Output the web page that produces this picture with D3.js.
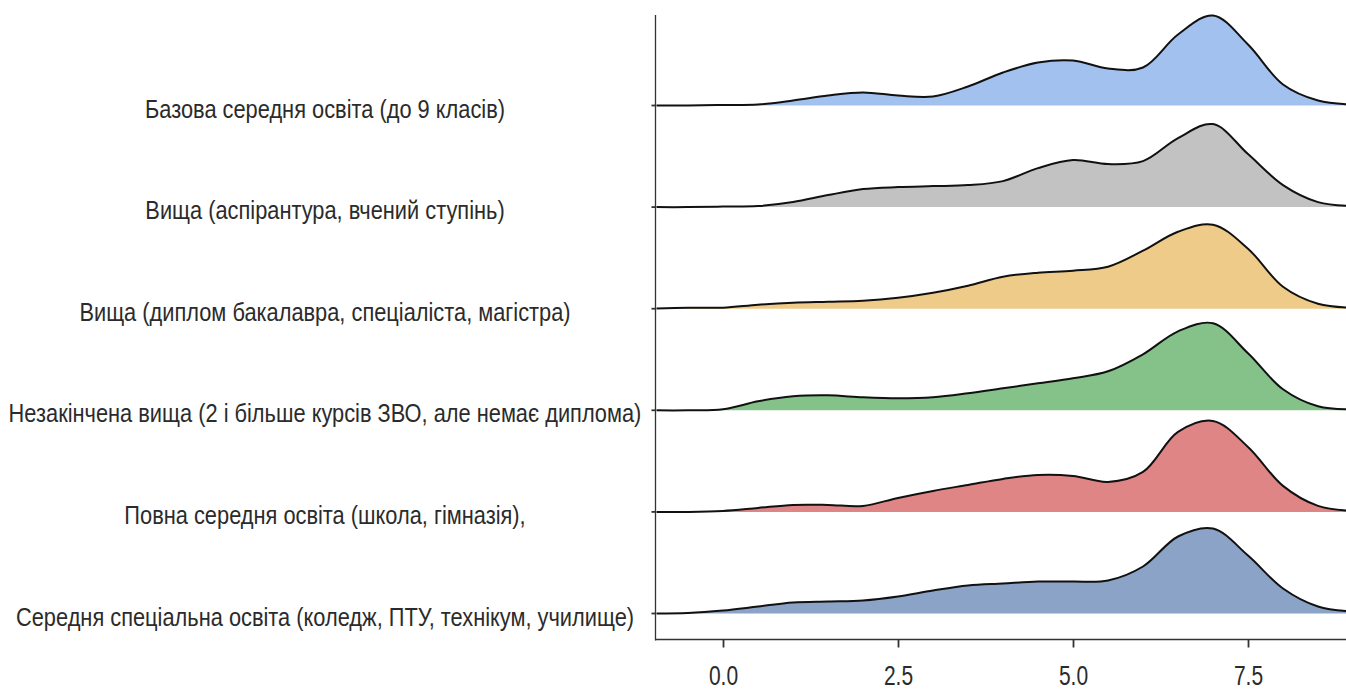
<!DOCTYPE html>
<html>
<head>
<meta charset="utf-8">
<script src="https://cdn.jsdelivr.net/npm/d3@7"></script>
<style>
  body { margin: 0; background: #fff; }
  text { font-family: 'Liberation Sans', Arial, sans-serif; fill: #2b2b2b; }
</style>
</head>
<body>
<div id="chart"></div>
<script>
// categories, top to bottom
const categories = [
    "Базова середня освіта (до 9 класів)",
    "Вища (аспірантура, вчений ступінь)",
    "Вища (диплом бакалавра, спеціаліста, магістра)",
    "Незакінчена вища (2 і більше курсів ЗВО, але немає диплома)",
    "Повна середня освіта (школа, гімназія),",
    "Середня спеціальна освіта (коледж, ПТУ, технікум, училище)"
];

const fillColors = ["#a3c1ee", "#c2c2c2", "#efcb8a", "#84c28a", "#e08585", "#8aa3c7"];

// x grid the densities were read at
const xGrid = [-1, -0.5, 0, 0.5, 1, 1.5, 2, 2.5, 3, 3.5, 4, 4.5, 5, 5.5, 6, 6.5, 7, 7.5, 8, 8.5, 9];

// density heights, one list per category (same order as categories)
const densBasic     = [0, 0, 0.005, 0.01, 0.05, 0.10, 0.13, 0.10, 0.09, 0.19, 0.33, 0.43, 0.45, 0.37, 0.38, 0.71, 0.90, 0.61, 0.21, 0.05, 0.01];
const densPostgrad  = [0, 0, 0.005, 0.01, 0.05, 0.12, 0.18, 0.20, 0.21, 0.22, 0.26, 0.39, 0.47, 0.43, 0.46, 0.69, 0.83, 0.53, 0.22, 0.05, 0.01];
const densDiploma   = [0, 0.01, 0.01, 0.04, 0.06, 0.07, 0.08, 0.11, 0.16, 0.23, 0.32, 0.36, 0.38, 0.42, 0.58, 0.77, 0.84, 0.60, 0.22, 0.05, 0.01];
const densIncomplete= [0, 0, 0.01, 0.09, 0.14, 0.15, 0.13, 0.12, 0.13, 0.17, 0.22, 0.27, 0.32, 0.39, 0.56, 0.79, 0.87, 0.57, 0.21, 0.04, 0.01];
const densSecondary = [0, 0, 0.01, 0.04, 0.07, 0.07, 0.06, 0.14, 0.21, 0.27, 0.33, 0.37, 0.36, 0.30, 0.40, 0.80, 0.91, 0.65, 0.26, 0.06, 0.01];
const densVocational= [0, 0.005, 0.03, 0.07, 0.11, 0.12, 0.13, 0.17, 0.23, 0.28, 0.30, 0.32, 0.32, 0.33, 0.47, 0.77, 0.85, 0.58, 0.25, 0.07, 0.02];

const densities = [densBasic, densPostgrad, densDiploma, densIncomplete, densSecondary, densVocational];

const xTicks = [0, 2.5, 5, 7.5];

//******************************************************
//                 CONSTANTS FOR CHART SIZE
//******************************************************
const TOTAL_WIDTH = 1346;
const TOTAL_HEIGHT = 691;
const AXIS_X = 655.5;
const AXIS_Y = 639.5;
const AXIS_TOP = 15;
const ROW_TOP = 105.5;
const ROW_BOTTOM = 613.5;
const LABEL_CENTER = 325;
const LABEL_MAX_WIDTH = 633;   // widest label in the picture
const RIDGE_PX = 100;
const TICK_SQUEEZE = 0.75;     // text in the picture is horizontally narrow

const svg = d3.select("#chart")
    .append("svg")
    .attr("width", TOTAL_WIDTH)
    .attr("height", TOTAL_HEIGHT)
;

const scaleX = d3.scaleLinear()
    .domain([0, 7.5])
    .range([723, 1248]);

const scaleY = d3.scalePoint()
    .domain(categories)
    .range([ROW_TOP, ROW_BOTTOM]);

const scaleH = d3.scaleLinear()
    .domain([0, 1])
    .range([0, RIDGE_PX]);

svg.append("clipPath")
    .attr("id", "plot-clip")
    .append("rect")
    .attr("x", AXIS_X + 1)
    .attr("y", 0)
    .attr("width", TOTAL_WIDTH - AXIS_X)
    .attr("height", AXIS_Y);

const ridges = svg.append("g")
    .attr("clip-path", "url(#plot-clip)");

categories.forEach((cat, i) => {
    let pts = xGrid.map((x, j) => ({x: x, d: densities[i][j]}));
    let base = scaleY(cat);

    let area = d3.area()
        .x(p => scaleX(p.x))
        .y0(base)
        .y1(p => Math.min(base, base - scaleH(p.d)))
        .curve(d3.curveCatmullRom.alpha(0.5));

    let line = d3.line()
        .x(p => scaleX(p.x))
        .y(p => base - scaleH(p.d))
        .curve(d3.curveCatmullRom.alpha(0.5));

    ridges.append("path")
        .datum(pts)
        .attr("d", area)
        .attr("fill", fillColors[i]);

    ridges.append("path")
        .datum(pts)
        .attr("d", line)
        .attr("fill", "none")
        .attr("stroke", "#111")
        .attr("stroke-width", 2);
});

// y axis: line, small ticks, centered labels
svg.append("line")
    .attr("x1", AXIS_X).attr("x2", AXIS_X)
    .attr("y1", AXIS_TOP).attr("y2", AXIS_Y + 1)
    .attr("stroke", "#333")
    .attr("stroke-width", 1.3);

svg.append("g")
    .selectAll("line")
    .data(categories)
    .join("line")
    .attr("x1", AXIS_X - 4).attr("x2", AXIS_X)
    .attr("y1", d => scaleY(d)).attr("y2", d => scaleY(d))
    .attr("stroke", "#333")
    .attr("stroke-width", 1.8);

const yLabels = svg.append("g")
    .selectAll("text")
    .data(categories)
    .join("text")
    .text(d => d)
    .attr("text-anchor", "middle")
    .style("font-size", "25px");

// squeeze the labels so the widest one fits like in the picture
let widest = d3.max(yLabels.nodes(), n => n.getComputedTextLength());
let labelSqueeze = LABEL_MAX_WIDTH / widest;
yLabels.attr("transform", d => `translate(${LABEL_CENTER}, ${scaleY(d) + 12}) scale(${labelSqueeze}, 1)`);

// x axis
svg.append("line")
    .attr("x1", AXIS_X).attr("x2", TOTAL_WIDTH)
    .attr("y1", AXIS_Y).attr("y2", AXIS_Y)
    .attr("stroke", "#333")
    .attr("stroke-width", 1.3);

const xAxis = svg.append("g")
    .attr("transform", `translate(0, ${AXIS_Y})`)
    .call(d3.axisBottom(scaleX).tickValues(xTicks).tickFormat(d3.format(".1f")).tickSize(8));

xAxis.select(".domain").remove();
xAxis.selectAll(".tick line")
    .attr("stroke", "#333")
    .attr("stroke-width", 1.8);
xAxis.selectAll(".tick text")
    .attr("y", 0)
    .attr("dy", 0)
    .attr("transform", `translate(0, 45) scale(${TICK_SQUEEZE}, 1)`)
    .style("font-size", "28px")
    .attr("fill", "#2b2b2b");
</script>
</body>
</html>
